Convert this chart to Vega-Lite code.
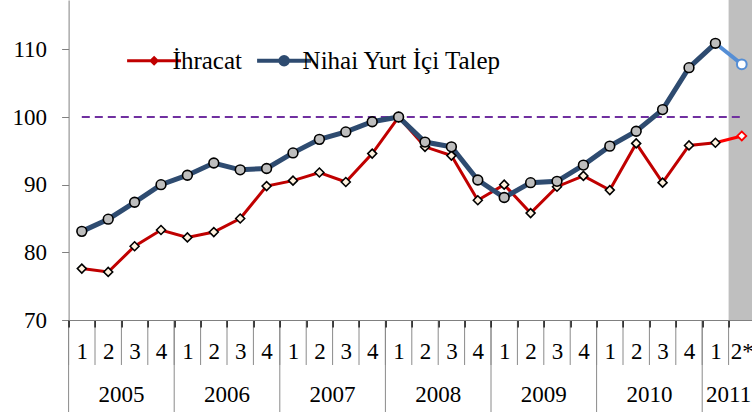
{
  "$schema": "https://vega.github.io/schema/vega-lite/v6.json",
  "width": 686.4,
  "height": 320,
  "autosize": "none",
  "padding": {"left": 68.6, "top": 0, "right": 0, "bottom": 92},
  "background": "white",
  "config": {"view": {"stroke": null}, "font": "Liberation Serif"},
  "datasets": {
    "d": [
      {"k": "2005-1", "s": "İhracat", "v": 77.6}, {"k": "2005-2", "s": "İhracat", "v": 77.1},
      {"k": "2005-3", "s": "İhracat", "v": 80.9}, {"k": "2005-4", "s": "İhracat", "v": 83.3},
      {"k": "2006-1", "s": "İhracat", "v": 82.2}, {"k": "2006-2", "s": "İhracat", "v": 83.0},
      {"k": "2006-3", "s": "İhracat", "v": 85.0}, {"k": "2006-4", "s": "İhracat", "v": 89.8},
      {"k": "2007-1", "s": "İhracat", "v": 90.6}, {"k": "2007-2", "s": "İhracat", "v": 91.8},
      {"k": "2007-3", "s": "İhracat", "v": 90.4}, {"k": "2007-4", "s": "İhracat", "v": 94.6},
      {"k": "2008-1", "s": "İhracat", "v": 100.0}, {"k": "2008-2", "s": "İhracat", "v": 95.6},
      {"k": "2008-3", "s": "İhracat", "v": 94.3}, {"k": "2008-4", "s": "İhracat", "v": 87.7},
      {"k": "2009-1", "s": "İhracat", "v": 90.0}, {"k": "2009-2", "s": "İhracat", "v": 85.8},
      {"k": "2009-3", "s": "İhracat", "v": 89.7}, {"k": "2009-4", "s": "İhracat", "v": 91.3},
      {"k": "2010-1", "s": "İhracat", "v": 89.2}, {"k": "2010-2", "s": "İhracat", "v": 96.1},
      {"k": "2010-3", "s": "İhracat", "v": 90.3}, {"k": "2010-4", "s": "İhracat", "v": 95.8},
      {"k": "2011-1", "s": "İhracat", "v": 96.2}, {"k": "2011-2*", "s": "İhracat", "v": 97.2},
      {"k": "2005-1", "s": "Nihai Yurt İçi Talep", "v": 83.1}, {"k": "2005-2", "s": "Nihai Yurt İçi Talep", "v": 84.9},
      {"k": "2005-3", "s": "Nihai Yurt İçi Talep", "v": 87.4}, {"k": "2005-4", "s": "Nihai Yurt İçi Talep", "v": 90.0},
      {"k": "2006-1", "s": "Nihai Yurt İçi Talep", "v": 91.4}, {"k": "2006-2", "s": "Nihai Yurt İçi Talep", "v": 93.2},
      {"k": "2006-3", "s": "Nihai Yurt İçi Talep", "v": 92.2}, {"k": "2006-4", "s": "Nihai Yurt İçi Talep", "v": 92.4},
      {"k": "2007-1", "s": "Nihai Yurt İçi Talep", "v": 94.7}, {"k": "2007-2", "s": "Nihai Yurt İçi Talep", "v": 96.7},
      {"k": "2007-3", "s": "Nihai Yurt İçi Talep", "v": 97.8}, {"k": "2007-4", "s": "Nihai Yurt İçi Talep", "v": 99.3},
      {"k": "2008-1", "s": "Nihai Yurt İçi Talep", "v": 100.0}, {"k": "2008-2", "s": "Nihai Yurt İçi Talep", "v": 96.3},
      {"k": "2008-3", "s": "Nihai Yurt İçi Talep", "v": 95.6}, {"k": "2008-4", "s": "Nihai Yurt İçi Talep", "v": 90.7},
      {"k": "2009-1", "s": "Nihai Yurt İçi Talep", "v": 88.1}, {"k": "2009-2", "s": "Nihai Yurt İçi Talep", "v": 90.3},
      {"k": "2009-3", "s": "Nihai Yurt İçi Talep", "v": 90.5}, {"k": "2009-4", "s": "Nihai Yurt İçi Talep", "v": 92.9},
      {"k": "2010-1", "s": "Nihai Yurt İçi Talep", "v": 95.7}, {"k": "2010-2", "s": "Nihai Yurt İçi Talep", "v": 97.9},
      {"k": "2010-3", "s": "Nihai Yurt İçi Talep", "v": 101.1}, {"k": "2010-4", "s": "Nihai Yurt İçi Talep", "v": 107.3},
      {"k": "2011-1", "s": "Nihai Yurt İçi Talep", "v": 110.9}, {"k": "2011-2*", "s": "Nihai Yurt İçi Talep", "v": 107.8}
    ]
  },
  "encoding": {
    "x": {
      "field": "k", "type": "nominal", "title": null,
      "scale": {"type": "band", "paddingInner": 0, "paddingOuter": 0},
      "axis": {
        "labelExpr": "split(datum.value, '-')[1]",
        "labelAngle": 0, "tickBand": "extent", "tickSize": 7, "tickColor": "#1a1a1a", "tickWidth": 1.5,
        "domainColor": "#808080", "labelFontSize": 23, "labelColor": "black",
        "labelBaseline": "middle", "labelPadding": 24, "grid": false, "labelFont": "Liberation Serif, DejaVu Serif, serif"
      }
    }
  },
  "layer": [
    {
      "data": {"values": [{"k": "2011-2*"}]},
      "mark": {"type": "rect", "color": "#BFBFBF"},
      "encoding": {"y": {"datum": 70, "type": "quantitative"}, "y2": {"datum": 117.3}}
    },
    {
      "data": {"name": "d"},
      "transform": [{"filter": "datum.s === 'İhracat'"}],
      "mark": {"type": "rule", "color": "#8a8a8a", "strokeWidth": 1},
      "encoding": {
        "x": {"field": "k", "type": "nominal", "title": null, "bandPosition": 0},
        "y": {"datum": 70, "type": "quantitative"}, "y2": {"datum": 63.35}
      }
    },
    {
      "data": {"values": [{"k": "2005-1"}, {"k": "2006-1"}, {"k": "2007-1"}, {"k": "2008-1"}, {"k": "2009-1"}, {"k": "2010-1"}, {"k": "2011-1"}]},
      "mark": {"type": "rule", "color": "#8a8a8a", "strokeWidth": 1},
      "encoding": {
        "x": {"field": "k", "type": "nominal", "title": null, "bandPosition": 0},
        "y": {"datum": 70, "type": "quantitative"}, "y2": {"datum": 56.4}
      }
    },
    {
      "data": {"values": [{"k": "2005-3", "t": "2005"}, {"k": "2006-3", "t": "2006"}, {"k": "2007-3", "t": "2007"}, {"k": "2008-3", "t": "2008"}, {"k": "2009-3", "t": "2009"}, {"k": "2010-3", "t": "2010"}, {"k": "2011-2*", "t": "2011"}]},
      "mark": {"type": "text", "fontSize": 23, "font": "Liberation Serif, DejaVu Serif, serif", "baseline": "middle", "color": "black"},
      "encoding": {
        "x": {"field": "k", "type": "nominal", "title": null, "bandPosition": 0},
        "y": {"datum": 58.9, "type": "quantitative"},
        "text": {"field": "t"}
      }
    },
    {
      "data": {"values": [{"k": "2005-1", "k2": "2011-2*"}]},
      "mark": {"type": "rule", "color": "#7030A0", "strokeWidth": 2, "strokeDash": [8, 5]},
      "encoding": {"y": {"datum": 100, "type": "quantitative"}, "x2": {"field": "k2"}}
    },
    {
      "data": {"name": "d"},
      "encoding": {
        "y": {
          "field": "v", "type": "quantitative", "title": null,
          "scale": {"domain": [70, 117.3], "nice": false, "zero": false},
          "axis": {
            "values": [70, 80, 90, 100, 110], "grid": false, "tickSize": 7, "tickColor": "#808080",
            "domainColor": "#808080", "labelFontSize": 23, "labelColor": "black", "labelPadding": 15,
            "labelFont": "Liberation Serif, DejaVu Serif, serif"
          }
        }
      },
      "layer": [
        {
          "transform": [{"filter": "datum.s === 'İhracat' && datum.k !== '2011-2*'"}],
          "mark": {"type": "line", "strokeWidth": 3},
          "encoding": {
            "color": {
              "field": "s", "type": "nominal",
              "scale": {"domain": ["İhracat", "Nihai Yurt İçi Talep"], "range": ["#C00000", "#2E4B70"]},
              "legend": {
                "orient": "none", "legendX": 73, "legendY": 48, "direction": "horizontal", "title": null,
                "symbolSize": 2916, "labelFontSize": 25, "labelFont": "Liberation Serif, DejaVu Serif, serif", "labelColor": "black",
                "labelLimit": 0, "columnPadding": 6, "labelOffset": 6, "symbolStrokeWidth": 3,
                "encode": {
                  "symbols": {
                    "update": {
                      "shape": {"signal": "datum.value === 'İhracat' ? 'M-1,0H1M0,-0.11L0.11,0L0,0.11L-0.11,0Z' : 'M-1,0H1M0.14,0A0.14,0.14 0 1 1 -0.14,0A0.14,0.14 0 1 1 0.14,0Z'"},
                      "fill": {"signal": "datum.value === 'İhracat' ? '#FFF2DF' : '#BEBEBE'"},
                      "strokeWidth": {"signal": "datum.value === 'İhracat' ? 3 : 4"}
                    }
                  }
                }
              }
            }
          }
        },
        {
          "transform": [{"filter": "datum.s !== 'İhracat' && datum.k !== '2011-2*'"}],
          "mark": {"type": "line", "strokeWidth": 5},
          "encoding": {"color": {"field": "s", "type": "nominal"}}
        },
        {
          "transform": [{"filter": "datum.s === 'İhracat' && (datum.k === '2011-1' || datum.k === '2011-2*')"}],
          "mark": {"type": "line", "strokeWidth": 3, "color": "#FF0000"}
        },
        {
          "transform": [{"filter": "datum.s !== 'İhracat' && (datum.k === '2011-1' || datum.k === '2011-2*')"}],
          "mark": {"type": "line", "strokeWidth": 4, "color": "#558ED5"}
        },
        {
          "transform": [{"filter": "datum.s === 'İhracat' && datum.k !== '2011-2*'"}],
          "mark": {"type": "point", "shape": "diamond", "filled": true, "fill": "#FFF2DF", "stroke": "black", "strokeWidth": 1.6, "size": 80, "opacity": 1}
        },
        {
          "transform": [{"filter": "datum.s !== 'İhracat' && datum.k !== '2011-2*'"}],
          "mark": {"type": "point", "shape": "circle", "filled": true, "fill": "#BEBEBE", "stroke": "black", "strokeWidth": 1.6, "size": 95, "opacity": 1}
        },
        {
          "transform": [{"filter": "datum.s === 'İhracat' && datum.k === '2011-2*'"}],
          "mark": {"type": "point", "shape": "diamond", "filled": true, "fill": "white", "stroke": "#FF0000", "strokeWidth": 1.8, "size": 80, "opacity": 1}
        },
        {
          "transform": [{"filter": "datum.s !== 'İhracat' && datum.k === '2011-2*'"}],
          "mark": {"type": "point", "shape": "circle", "filled": true, "fill": "white", "stroke": "#558ED5", "strokeWidth": 2, "size": 95, "opacity": 1}
        }
      ]
    }
  ]
}
